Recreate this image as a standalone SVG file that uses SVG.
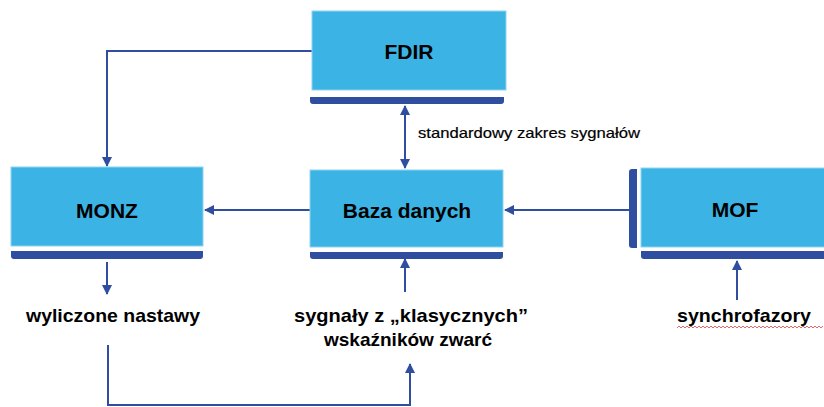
<svg xmlns="http://www.w3.org/2000/svg" width="824" height="407" viewBox="0 0 824 407">
<style>
.box{fill:#3BB4E5;stroke:#8FD3F0;stroke-width:1}
.bar{fill:#2F4E9F}
.lbl{font-family:"Liberation Sans",Arial,sans-serif;font-weight:bold;font-size:21px;fill:#000;text-anchor:middle}
.txt{font-family:"Liberation Sans",Arial,sans-serif;font-weight:bold;font-size:19px;fill:#000;text-anchor:middle}
.small{font-family:"Liberation Sans",Arial,sans-serif;font-size:15px;fill:#000;stroke:#000;stroke-width:0.2}
.ln{fill:none;stroke:#2F4E9F;stroke-width:2}
</style>
<defs>
<marker id="ah" viewBox="0 0 10 10" refX="9" refY="5" markerWidth="10" markerHeight="10" markerUnits="userSpaceOnUse" orient="auto-start-reverse">
<path d="M0,0 L10,5 L0,10 z" fill="#2F4E9F"/>
</marker>
</defs>
<rect width="824" height="407" fill="#fff"/>
<g id="connectors">
<path class="ln" d="M312,51 H107 V166" marker-end="url(#ah)"/>
<path class="ln" d="M310,210 H205" marker-end="url(#ah)"/>
<path class="ln" d="M629,210 H505" marker-end="url(#ah)"/>
<path class="ln" d="M405,106 V168" marker-start="url(#ah)" marker-end="url(#ah)"/>
<path class="ln" d="M107,262 V294" marker-end="url(#ah)"/>
<path class="ln" d="M405,292 V259" marker-end="url(#ah)"/>
<path class="ln" d="M737,300 V261" marker-end="url(#ah)"/>
<path class="ln" d="M108,345 V405 H410 V364" marker-end="url(#ah)"/>
</g>
<g id="FDIR">
<rect class="box" x="312" y="11" width="194" height="79"/>
<path class="bar" d="M310,97 H504 V101 Q504,104 501,104 H313 Q310,104 310,101 Z"/>
<text class="lbl" x="409" y="59">FDIR</text>
</g>
<g id="MONZ">
<rect class="box" x="11" y="167" width="192" height="79"/>
<path class="bar" d="M11,251 H203 V256 Q203,259 200,259 H14 Q11,259 11,256 Z"/>
<text class="lbl" x="107" y="218">MONZ</text>
</g>
<g id="Baza">
<rect class="box" x="310" y="170" width="193" height="77"/>
<path class="bar" d="M310,252 H503 V256 Q503,259 500,259 H313 Q310,259 310,256 Z"/>
<text class="lbl" x="407" y="218">Baza danych</text>
</g>
<g id="MOF">
<rect class="box" x="641" y="168" width="184" height="79"/>
<path class="bar" d="M637,169 V248 H632 Q629,248 629,245 V172 Q629,169 632,169 Z"/>
<path class="bar" d="M641,251 H824 V259 H644 Q641,259 641,256 Z"/>
<text class="lbl" x="735" y="217">MOF</text>
</g>
<g id="label-standard">
<text class="small" x="418" y="138" textLength="222" lengthAdjust="spacingAndGlyphs">standardowy zakres sygnałów</text>
</g>
<g id="label-wyliczone">
<text class="txt" x="113" y="322" textLength="174" lengthAdjust="spacingAndGlyphs">wyliczone nastawy</text>
</g>
<g id="label-sygnaly">
<text class="txt" x="411" y="322" textLength="234" lengthAdjust="spacingAndGlyphs">sygnały z „klasycznych”</text>
<text class="txt" x="408" y="346" textLength="168" lengthAdjust="spacingAndGlyphs">wskaźników zwarć</text>
</g>
<g id="label-synchro">
<text class="txt" x="744" y="322" textLength="134" lengthAdjust="spacingAndGlyphs">synchrofazory</text>
<path d="M677,328 l2,-2 l2,2 l2,-2 l2,2 l2,-2 l2,2 l2,-2 l2,2 l2,-2 l2,2 l2,-2 l2,2 l2,-2 l2,2 l2,-2 l2,2 l2,-2 l2,2 l2,-2 l2,2 l2,-2 l2,2 l2,-2 l2,2 l2,-2 l2,2 l2,-2 l2,2 l2,-2 l2,2 l2,-2 l2,2 l2,-2 l2,2 l2,-2 l2,2 l2,-2 l2,2 l2,-2 l2,2 l2,-2 l2,2 l2,-2 l2,2 l2,-2 l2,2 l2,-2 l2,2 l2,-2 l2,2 l2,-2 l2,2 l2,-2 l2,2 l2,-2 l2,2 l2,-2 l2,2 l2,-2 l2,2 l2,-2 l2,2 l2,-2 l2,2 l2,-2 l2,2 l2,-2 l2,2 l2,-2 l2,2 l2,-2 l2,2 l2,-2" fill="none" stroke="#E04040" stroke-width="0.8"/>
</g>
</svg>
